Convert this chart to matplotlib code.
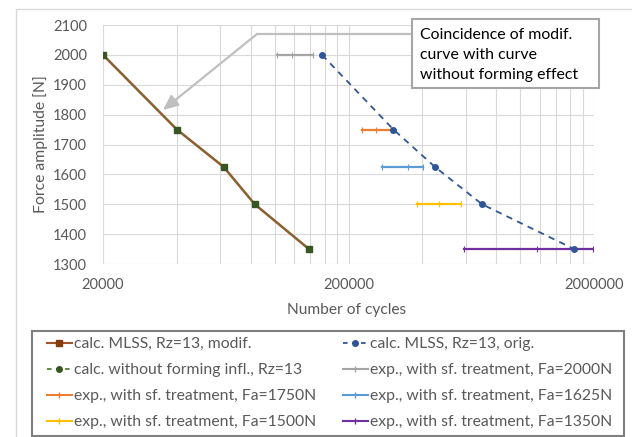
import matplotlib
matplotlib.use("Agg")
import matplotlib.pyplot as plt
from matplotlib.lines import Line2D
from matplotlib.patches import Rectangle
from matplotlib.ticker import FixedLocator, NullFormatter

plt.rcParams['font.family'] = ['Lato', 'DejaVu Sans']

# Data
force_calc = [2000, 1750, 1625, 1500, 1350]
cycles_modif = [20000, 40000, 62000, 83000, 138000]
cycles_noform = [20000, 40000, 62000, 83000, 138000]
cycles_orig = [156000, 305000, 450000, 700000, 1660000]

exp_force = [2000, 1750, 1625, 1500, 1350]
exp_cycles = [
    [102000, 118000, 143000],
    [227000, 259000, 297000],
    [275000, 348000, 401000],
    [381000, 469000, 573000],
    [593000, 1175000, 1990000],
]
exp_colors = ['#A5A5A5', '#ED7D31', '#5B9BD5', '#FFC000', '#7030A0']

x_major = [20000, 200000, 2000000]
x_minor = [20000 * k for k in range(2, 10)] + [200000 * k for k in range(2, 10)]

note_lines = ['Coincidence of modif.', 'curve with curve', 'without forming effect']

col_modif = '#A0522D'
col_noform = '#548235'
col_noform_dark = '#375623'
col_orig = '#2F5597'
text_col = '#595959'

W, H = 632, 437
fig = plt.figure(figsize=(W / 100, H / 100), dpi=100)
renderer = fig.canvas.get_renderer()


def text_box(text, size):
    t = fig.text(0, 0, text, fontsize=size)
    bb = t.get_window_extent(renderer)
    t.remove()
    return bb.width, bb.height


def fit_size(text, target_px, size=10):
    # font size that gives the text the wanted width in pixels
    return size * target_px / text_box(text, size)[0]


def px(x, y):
    # pixel position (from top-left) to figure fraction
    return x / W, 1 - y / H


ax = fig.add_axes([103 / W, 1 - 264 / H, (594 - 103) / W, (264 - 25) / H])

# chart outer border (only left and top edges are visible)
fig.add_artist(Line2D([16 / W, 16 / W, 1], [0, 1 - 9 / H, 1 - 9 / H],
                      transform=fig.transFigure, color='#D9D9D9', lw=1))

ax.plot(cycles_modif, force_calc, '-', color=col_modif, lw=1.8, zorder=3)
ax.plot(cycles_noform, force_calc, '--s', color=col_noform, lw=0.8,
        dashes=(3, 2), ms=4, mfc=col_noform_dark, mec=col_noform_dark, zorder=4)
ax.plot(cycles_orig, force_calc, '--o', color=col_orig, lw=1.3,
        dashes=(3.5, 3), ms=4, zorder=4)

for f, cyc, c in zip(exp_force, exp_cycles, exp_colors):
    ax.plot(cyc, [f] * len(cyc), '-', color=c, lw=1.6, marker='|',
            ms=5, mew=0.8, zorder=3)

tick_fs = fit_size('2100', 34)
ax.set_xscale('log')
ax.set_xlim(20000, 2000000)
ax.set_ylim(1300, 2100)
ax.set_yticks(range(1300, 2101, 100))
ax.xaxis.set_major_locator(FixedLocator(x_major))
ax.set_xticklabels([str(v) for v in x_major])
ax.xaxis.set_minor_locator(FixedLocator(x_minor))
ax.xaxis.set_minor_formatter(NullFormatter())
ax.grid(True, which='both', color='#D9D9D9', lw=0.8)
ax.set_axisbelow(True)
for s in ax.spines.values():
    s.set_visible(False)
ax.tick_params(which='both', length=0, labelsize=tick_fs, colors=text_col)
ax.tick_params(axis='x', pad=10)
ax.tick_params(axis='y', pad=11.5)

fig.text(*px(347, 310), 'Number of cycles', ha='center', va='center',
         fontsize=fit_size('Number of cycles', 119), color=text_col)
fig.text(*px(41, 144), 'Force amplitude [N]', ha='center', va='center',
         rotation=90, fontsize=fit_size('Force amplitude [N]', 138), color=text_col)

# annotation box with elbow arrow
fig.add_artist(Line2D([257 / W, 412 / W], [1 - 34 / H] * 2,
                      transform=fig.transFigure, color='#BFBFBF', lw=1.6))
ax.annotate('', xy=(163, H - 110), xycoords='figure pixels',
            xytext=(257, H - 34), textcoords='figure pixels',
            arrowprops=dict(arrowstyle='-|>,head_length=0.9,head_width=0.4',
                            color='#BFBFBF', lw=1.6, shrinkA=0, shrinkB=0))
fig.patches.append(Rectangle(px(412, 88), (599 - 412) / W, (88 - 18.5) / H,
                             transform=fig.transFigure, fc='white',
                             ec='#A6A6A6', lw=1.5, zorder=5))
note_fs = fit_size(note_lines[2], 158)
for i, line in enumerate(note_lines):
    fig.text(*px(420, 39 + 20 * i), line, fontsize=note_fs, color='black',
             va='baseline', ha='left', zorder=6)

# legend
handles = [
    Line2D([], [], color=col_modif, marker='s', ms=4.5, lw=1.5,
           mfc='#843C0C', mec='#843C0C'),
    Line2D([], [], color=col_noform, marker='o', ms=4, lw=1.3, ls='--',
           dashes=(2.5, 2.5), mfc=col_noform_dark, mec=col_noform_dark),
    Line2D([], [], color=exp_colors[1], marker='|', ms=4, lw=1.5),
    Line2D([], [], color=exp_colors[3], marker='|', ms=4, lw=1.5),
    Line2D([], [], color=col_orig, marker='o', ms=4, lw=1.3, ls='--', dashes=(2.5, 2.5)),
    Line2D([], [], color=exp_colors[0], marker='|', ms=4, lw=1.5),
    Line2D([], [], color=exp_colors[2], marker='|', ms=4, lw=1.5),
    Line2D([], [], color=exp_colors[4], marker='|', ms=4, lw=1.5),
]
labels = ['calc. MLSS, Rz=13, modif.', 'calc. without forming infl., Rz=13',
          'exp., with sf. treatment, Fa=1750N', 'exp., with sf. treatment, Fa=1500N',
          'calc. MLSS, Rz=13, orig.', 'exp., with sf. treatment, Fa=2000N',
          'exp., with sf. treatment, Fa=1625N', 'exp., with sf. treatment, Fa=1350N']
leg_fs = fit_size('exp., with sf. treatment, Fa=1750N', 242)
fs_px = leg_fs * 100 / 72
row_h = text_box('exp., with sf. treatment, Fa=1750N', leg_fs)[1]
fig.patches.append(Rectangle(px(32, 436), (624 - 32) / W, (436 - 331) / H,
                             transform=fig.transFigure, fill=False,
                             ec='#7F7F7F', lw=1.5))
leg = fig.legend(handles, labels, ncol=2, loc='center left',
                 bbox_to_anchor=(47 / W, 1 - 383.2 / H, (612 - 47) / W, 0),
                 mode='expand', fontsize=leg_fs, frameon=False,
                 handlelength=25 / fs_px, handletextpad=2 / fs_px,
                 labelspacing=(25.9 - row_h) / fs_px, borderaxespad=0, borderpad=0)
for t in leg.get_texts():
    t.set_color(text_col)

fig.savefig('out.png', dpi=100)
